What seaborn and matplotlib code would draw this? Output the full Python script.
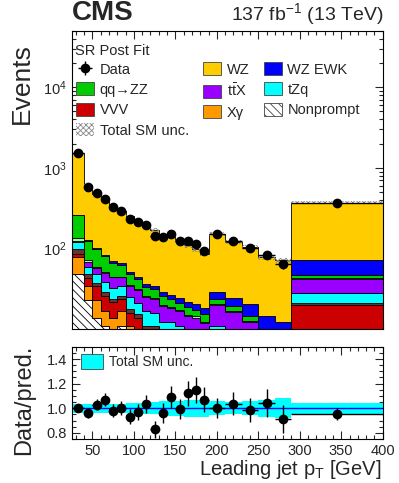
import numpy as np
import pandas as pd
import seaborn as sns
from matplotlib import pyplot as plt
from matplotlib.patches import Patch
from matplotlib.ticker import MultipleLocator, LogLocator, NullFormatter, FormatStrFormatter

# Binning (leading jet pT, GeV)
edges = [25, 40, 50, 60, 70, 80, 90, 100, 110, 120, 130, 140, 150, 160, 170, 180, 190,
         210, 230, 250, 270, 290, 400]

# Post-fit yields per bin
wz = [1246, 479, 374, 306, 266, 227, 202, 177, 155, 136, 116, 113, 100, 88, 78, 68,
      123, 96, 84, 64, 59, 297]
wz_ewk = [3, 2, 3, 3, 3, 3, 3, 3, 3, 3, 3, 3, 3, 3, 3, 3, 5.5, 5, 6, 5, 4, 26]
qq_zz = [126, 53, 40, 30, 22, 18, 14, 10, 8, 7, 6, 5, 4, 4, 3, 3, 3, 2.5, 2, 1.5, 1, 4]
other_zz = [12, 3.6, 2, 1.5, 1, 1, 1, 1, 0.8, 0.8, 0.5, 0.5, 0.5, 0.5, 0.5, 0.5, 0.5, 0.3, 0.3, 0.2, 0.2, 0.5]
ttx = [2, 8, 8, 11, 11, 10, 9, 9, 8, 8, 7, 6, 6, 5, 5, 4, 9, 8, 6, 4, 3, 14]
tzq = [21, 12, 12, 10, 9, 8, 7, 6, 6, 5, 4, 4, 3.5, 3, 3, 2.5, 5, 4, 3, 2, 2, 7]
other_vv = [13, 5, 3, 3, 2, 2, 2, 1.5, 1, 1, 1, 1, 1, 1, 1, 1, 1, 0.5, 0.5, 0.3, 0.3, 1.5]
vvv = [8, 9, 11, 9, 8, 7, 5, 4, 3, 3, 2.5, 2.5, 2, 2, 2, 2, 2, 1.5, 1.5, 1, 1, 16]
xgamma = [30, 11, 9, 6, 5, 6, 4, 4, 3, 3, 2, 2, 2, 1.5, 1, 1, 1, 1, 0.5, 0.3, 0.3, 1]
nonprompt = [49, 23, 14, 11, 9, 11, 7, 6, 4, 4, 3, 3, 2.5, 2, 2, 1.5, 2, 1.5, 1, 0.5, 0.5, 3]

data = [1510, 582, 490, 417, 329, 293, 236, 214, 199, 142, 139, 153, 123, 123, 113, 92.5,
        153, 124, 103, 82.6, 64.6, 363]
ratio = [1.00, 0.96, 1.03, 1.07, 0.98, 1.00, 0.93, 0.97, 1.035, 0.83, 0.96, 1.09, 0.995,
         1.12, 1.15, 1.07, 1.005, 1.035, 0.985, 1.045, 0.91, 0.955]
ratio_err = [0.026, 0.04, 0.046, 0.052, 0.054, 0.058, 0.06, 0.066, 0.073, 0.07, 0.082, 0.088,
             0.081, 0.1, 0.104, 0.1, 0.081, 0.093, 0.098, 0.115, 0.113, 0.05]
# relative total SM uncertainty per bin
sm_unc = [0.035, 0.035, 0.035, 0.035, 0.035, 0.035, 0.04, 0.04, 0.045, 0.05, 0.06, 0.065,
          0.06, 0.07, 0.07, 0.07, 0.055, 0.05, 0.055, 0.07, 0.08, 0.045]

# process name, yields, colour (top of the stack first)
processes = [
    ('WZ', wz, '#ffcc00'),
    ('WZ EWK', wz_ewk, '#0000ff'),
    ('qq→ZZ', qq_zz, '#00cc00'),
    ('other ZZ', other_zz, '#99ff99'),
    (r'$\mathregular{t\bar{t}X}$', ttx, '#9900ff'),
    ('tZq', tzq, '#00ffff'),
    ('other VV', other_vv, '#663333'),
    ('VVV', vvv, '#cc0000'),
    ('Xγ', xgamma, '#ff9900'),
    ('Nonprompt', nonprompt, '#ffffff'),
]

sns.set_style('ticks')
plt.rcParams['font.family'] = ['Liberation Sans', 'DejaVu Sans']
plt.rcParams['mathtext.fontset'] = 'custom'
plt.rcParams['mathtext.rm'] = 'Liberation Sans'
plt.rcParams['mathtext.it'] = 'Liberation Sans:italic'
plt.rcParams['hatch.linewidth'] = 0.6

edges_a = np.array(edges, dtype=float)
centers = (edges_a[:-1] + edges_a[1:]) / 2
halfw = np.diff(edges_a) / 2

rows = []
for name, vals, col in processes:
    for c, v in zip(centers, vals):
        rows.append({'pt': c, 'events': v, 'process': name})
df = pd.DataFrame(rows)
palette = {name: col for name, vals, col in processes}
order = [p[0] for p in processes]

fig = plt.figure(figsize=(3.99, 4.83), dpi=100)
ax = fig.add_axes([0.1797, 0.3188, 0.7794, 0.6176])
rax = fig.add_axes([0.1797, 0.0911, 0.7794, 0.1911])

# Stacked backgrounds
ax.set_yscale('log')
sns.histplot(data=df, x='pt', weights='events', hue='process', hue_order=order, palette=palette,
             bins=edges, multiple='stack', element='step', fill=True, alpha=1,
             edgecolor='black', linewidth=0.6, legend=False, ax=ax)
for coll in ax.collections:
    fc = coll.get_facecolor()
    if len(fc) and np.allclose(fc[0][:3], 1.0):
        coll.set_hatch('\\\\\\\\')

# Total SM uncertainty on top of the stack
total = np.sum([p[1] for p in processes], axis=0)
unc = np.array(sm_unc)
ax.fill_between(edges_a, np.append(total * (1 - unc), total[-1] * (1 - unc[-1])),
                np.append(total * (1 + unc), total[-1] * (1 + unc[-1])), step='post',
                facecolor='none', edgecolor='#888888', hatch='xxxxxx', linewidth=0)

# Data
data_a = np.array(data)
eb = ax.errorbar(centers, data_a, xerr=halfw, yerr=np.sqrt(data_a), fmt='o', color='black',
                 ms=6, elinewidth=1, capsize=0, zorder=5)

ax.set_xlim(25, 400)
ax.set_ylim(10.1, 5e4)
ax.set_xlabel('')
ax.set_ylabel('')
ax.xaxis.set_major_locator(MultipleLocator(50))
ax.xaxis.set_minor_locator(MultipleLocator(10))
ax.yaxis.set_major_locator(LogLocator(base=10))
ax.yaxis.set_minor_locator(LogLocator(base=10, subs=np.arange(2, 10)))
ax.yaxis.set_minor_formatter(NullFormatter())
ax.tick_params(which='both', direction='in', top=True, right=True, labelbottom=False,
               labelsize=10.5, width=0.8)
ax.tick_params(which='major', length=6)
ax.tick_params(which='minor', length=3)

# Legend
def box(col, **kw):
    return Patch(facecolor=col, edgecolor='#444444', linewidth=0.6, **kw)

handles = [eb, box('#00cc00'), box('#cc0000'),
           Patch(facecolor='white', edgecolor='#888888', hatch='xxxxxx', linewidth=0),
           box('#ffcc00'), box('#9900ff'), box('#ff9900'),
           box('#0000ff'), box('#00ffff'), box('white', hatch='\\\\\\\\')]
labels = ['Data', 'qq→ZZ', 'VVV', 'Total SM unc.', 'WZ', r'$\mathregular{t\bar{t}X}$', 'Xγ',
          'WZ EWK', 'tZq', 'Nonprompt']
ax.legend(handles, labels, ncol=3, loc='upper left', bbox_to_anchor=(0.015, 0.895),
          frameon=False, fontsize=10.5, borderpad=0, handlelength=1.2, handleheight=1.0,
          handletextpad=0.4, labelspacing=0.4, columnspacing=1.0, borderaxespad=0)
ax.text(0.012, 0.955, 'SR Post Fit', transform=ax.transAxes, ha='left', va='top', fontsize=10.5)

# Ratio panel
ratio_lo = np.append(1 - unc, 1 - unc[-1])
ratio_hi = np.append(1 + unc, 1 + unc[-1])
rax.fill_between(edges_a, ratio_lo, ratio_hi, step='post', color='#00ffff', linewidth=0)
rax.axhline(1.0, color='#0000ff', lw=1.0)
rax.errorbar(centers, ratio, xerr=halfw, yerr=ratio_err, fmt='o', color='black', ms=6,
             elinewidth=1, capsize=0, zorder=5)
rax.set_xlim(25, 400)
rax.set_ylim(0.75, 1.5)
rax.xaxis.set_major_locator(MultipleLocator(50))
rax.xaxis.set_minor_locator(MultipleLocator(10))
rax.yaxis.set_major_locator(MultipleLocator(0.2))
rax.yaxis.set_minor_locator(MultipleLocator(0.05))
rax.yaxis.set_major_formatter(FormatStrFormatter('%.1f'))
rax.tick_params(which='both', direction='in', top=True, right=True, labelsize=10.5, width=0.8)
rax.tick_params(which='major', length=6)
rax.tick_params(which='minor', length=3)
rax.legend([Patch(facecolor='#00ffff', edgecolor='#444444', linewidth=0.6)], ['Total SM unc.'],
           loc='upper left', bbox_to_anchor=(0.03, 0.92), frameon=False, fontsize=10,
           handlelength=1.6, handleheight=1.3, handletextpad=0.4, borderpad=0, borderaxespad=0)

for a in (ax, rax):
    for s in a.spines.values():
        s.set_linewidth(0.8)
        s.set_color('black')

# Labels and header
fig.text(0.054, 0.828, 'Events', rotation=90, ha='center', va='center', fontsize=19)
fig.text(0.06, 0.172, 'Data/pred.', rotation=90, ha='center', va='center', fontsize=17)
fig.text(0.955, 0.016, r'Leading jet p$_{\mathregular{T}}$ [GeV]', ha='right', va='baseline', fontsize=14.5)
fig.text(0.1805, 0.9586, 'CMS', ha='left', va='baseline', fontsize=20, fontweight='bold')
fig.text(0.96, 0.9586, r'137 fb$^{\mathregular{-1}}$ (13 TeV)', ha='right', va='baseline', fontsize=14)

fig.savefig('out.png', dpi=100)
plt.close()
